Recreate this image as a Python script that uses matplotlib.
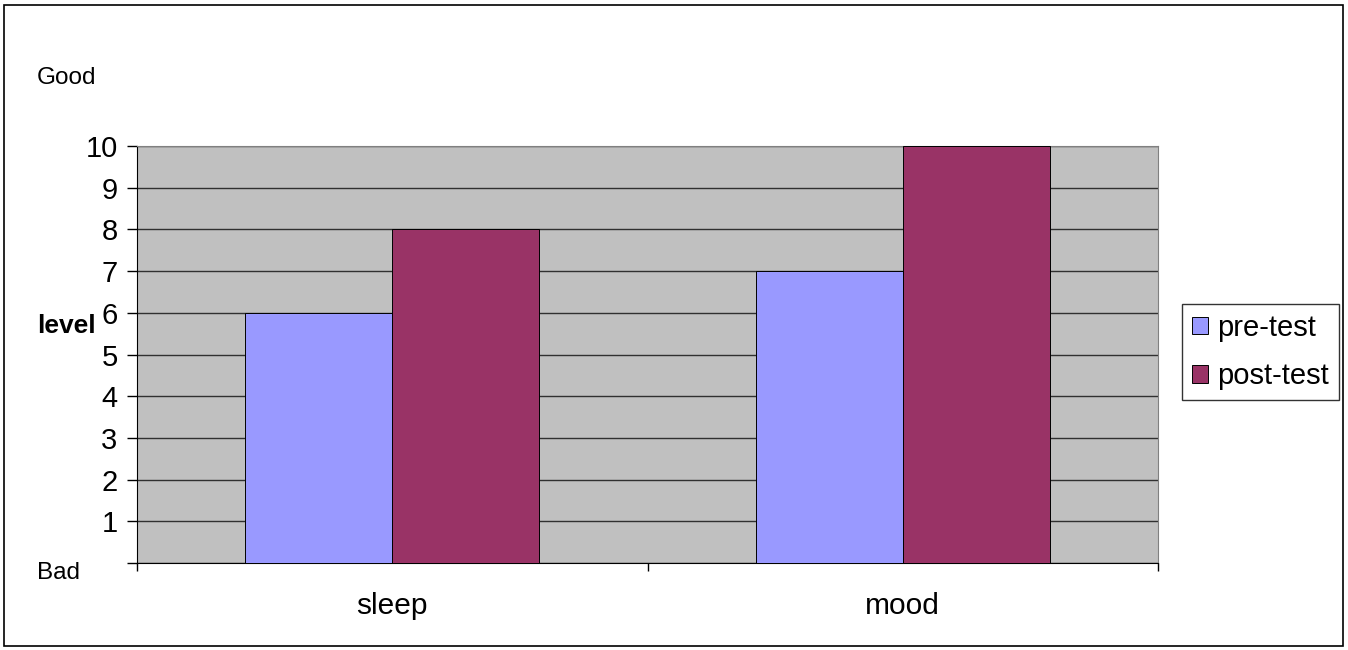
import matplotlib.pyplot as plt
import numpy as np
from matplotlib.patches import Rectangle

plt.rcParams['font.family'] = ['Liberation Sans', 'DejaVu Sans']

# data
categories = ['sleep', 'mood']
series_names = ['pre-test', 'post-test']
pre_test = [6, 7]
post_test = [8, 10]
y_ticks = [0, 1, 2, 3, 4, 5, 6, 7, 8, 9, 10]
y_tick_labels = [''] + [str(v) for v in y_ticks[1:]]

W, H = 1348, 650
fig = plt.figure(figsize=(W / 100, H / 100), dpi=100)

# outer chart border
fig.patches.append(Rectangle((4 / W, 4 / H), 1339 / W, 641 / H, transform=fig.transFigure,
                             fill=False, edgecolor='black', linewidth=1.2))

ax = fig.add_axes([137 / W, 1 - 563 / H, (1158 - 137) / W, (563 - 146) / H])
ax.set_facecolor('#C0C0C0')

x = np.arange(len(categories))
bw = 0.288
ax.bar(x - bw / 2, pre_test, bw, color='#9999FF', edgecolor='black', linewidth=0.7,
       label=series_names[0], zorder=3)
ax.bar(x + bw / 2, post_test, bw, color='#993366', edgecolor='black', linewidth=0.7,
       label=series_names[1], zorder=3)

ax.set_xlim(-0.5, len(categories) - 0.5)
ax.set_ylim(0, 10)
ax.set_yticks(y_ticks)
ax.set_yticklabels(y_tick_labels, fontsize=21)
ax.yaxis.grid(True, color='#303030', linewidth=1.0, zorder=1)
ax.tick_params(axis='y', length=7, width=1, pad=7)

ax.set_xticks(x)
ax.set_xticklabels(categories, fontsize=21.5)
ax.set_xticks(np.arange(len(categories) + 1) - 0.5, minor=True)
ax.tick_params(axis='x', which='major', length=0, pad=21)
ax.tick_params(axis='x', which='minor', length=6, width=1)

for s in ['top', 'right']:
    ax.spines[s].set_color('#808080')
for s in ['left', 'bottom']:
    ax.spines[s].set_color('black')

fig.text(37 / W, 1 - 326 / H, 'level', fontsize=19, fontweight='bold', va='center', ha='left')
fig.text(37 / W, 1 - 78 / H, 'Good', fontsize=17.5, va='center', ha='left')
fig.text(37 / W, 1 - 573 / H, 'Bad', fontsize=17.5, va='center', ha='left')

leg = ax.legend(loc='center left', bbox_to_anchor=(1182 / W, 1 - 352 / H),
                bbox_transform=fig.transFigure, fontsize=21, frameon=True,
                fancybox=False, handlelength=0.55, handleheight=0.55,
                handletextpad=0.3, borderpad=0.35, labelspacing=0.7,
                borderaxespad=0)
leg.get_frame().set_edgecolor('black')
leg.get_frame().set_linewidth(1.0)

fig.savefig('out.png', dpi=100)
